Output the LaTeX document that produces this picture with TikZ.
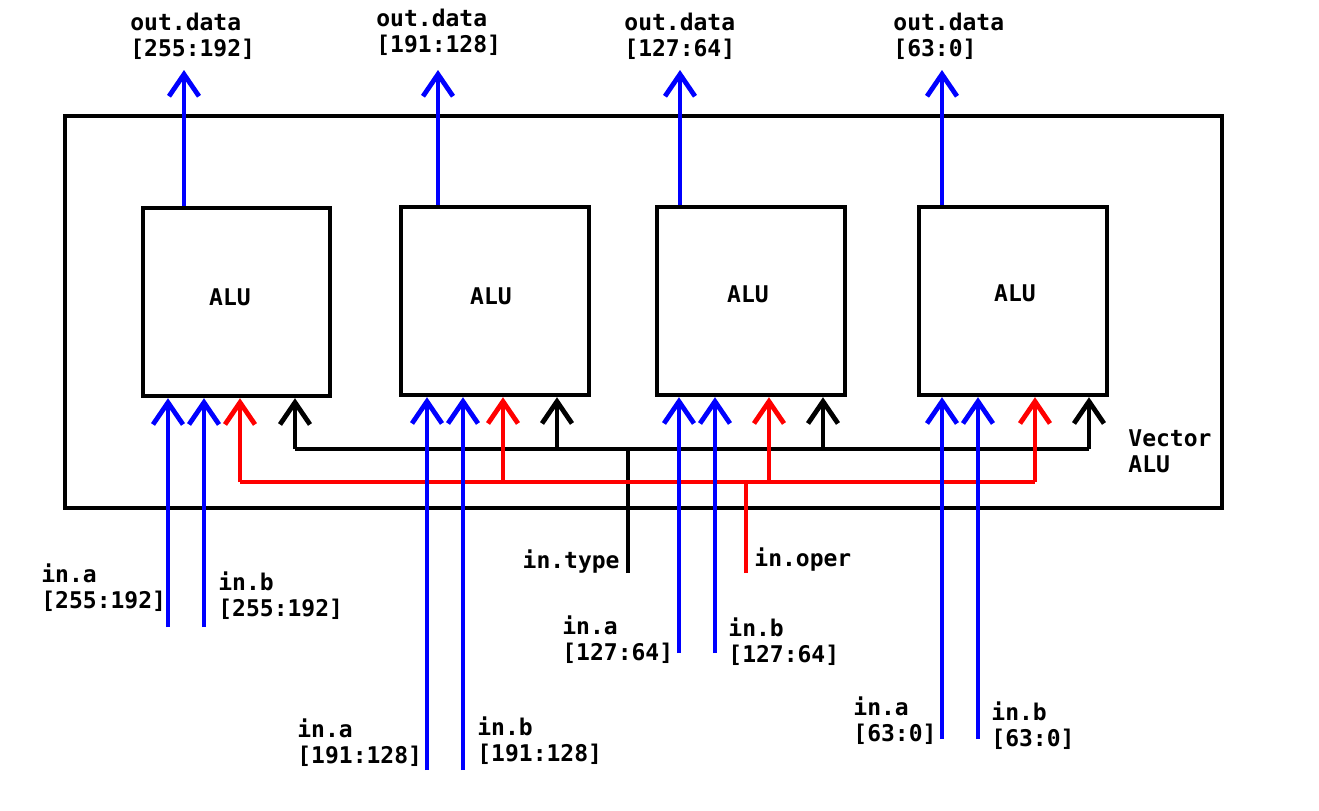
\documentclass[tikz,border=0pt]{standalone}
\usepackage{fontspec}
\setmainfont{DejaVu Sans Mono}
\usetikzlibrary{arrows.meta}
\tikzset{
  px/.style={x=0.5pt,y=-0.5pt},
  box/.style={draw=black,line width=2.2pt,rectangle,inner sep=0pt},
  lab/.style={anchor=west,align=left,inner sep=0pt,font=\bfseries\fontsize{11.5}{13}\selectfont},
  alut/.style={inner sep=0pt,font=\bfseries\fontsize{11.5}{13}\selectfont},
  wire/.style={line width=2.4pt},
  tip/.style={-{Straight Barb[length=11pt,width=15pt,line width=2.4pt]}},
  barrow/.style={wire,draw=blue,tip},
  rarrow/.style={wire,draw=red,tip},
  karrow/.style={wire,draw=black,tip},
}
\begin{document}
\begin{tikzpicture}[px]
\useasboundingbox (0,0) rectangle (1319,810);
% outer box
\node[box,line width=2.4pt,minimum width=578.5pt,minimum height=196pt] (valu) at (643.5,312) {};
\node[lab] (vlab) at (1128,451) {Vector\\ALU};
% ALU boxes
\node[box,minimum width=93.5pt,minimum height=94pt] (alu1) at (236.5,302) {};
\node[box,minimum width=94pt,minimum height=94pt] (alu2) at (495,301) {};
\node[box,minimum width=94pt,minimum height=94pt] (alu3) at (751,301) {};
\node[box,minimum width=94pt,minimum height=94pt] (alu4) at (1013,301) {};
\node[alut] (t1) at (230,297) {ALU};
\node[alut] (t2) at (491,296) {ALU};
\node[alut] (t3) at (748,294) {ALU};
\node[alut] (t4) at (1015,293) {ALU};
% outputs
\coordinate (o1) at (184,70);
\coordinate (o2) at (438,70);
\coordinate (o3) at (680,70);
\coordinate (o4) at (942,70);
\draw[barrow] (o1 |- alu1.north) -- (o1);
\draw[barrow] (o2 |- alu2.north) -- (o2);
\draw[barrow] (o3 |- alu3.north) -- (o3);
\draw[barrow] (o4 |- alu4.north) -- (o4);
\node[lab] (ol1) at (130,36) {out.data\\{}[255:192]};
\node[lab] (ol2) at (376,32) {out.data\\{}[191:128]};
\node[lab] (ol3) at (624,36) {out.data\\{}[127:64]};
\node[lab] (ol4) at (893,36) {out.data\\{}[63:0]};
% data inputs
\coordinate (a1) at (168,627); \coordinate (b1) at (204,627);
\coordinate (a2) at (427,770); \coordinate (b2) at (463,770);
\coordinate (a3) at (679,653); \coordinate (b3) at (715,653);
\coordinate (a4) at (942,739); \coordinate (b4) at (978,739);
% type bus
\coordinate (k1) at (295,449); \coordinate (k2) at (557,449);
\coordinate (k3) at (823,449); \coordinate (k4) at (1089,449);
\coordinate (ty) at (628,573);
\draw[wire] (k1) -- (k4);
\draw[wire] (ty) -- (ty |- k1);
\draw[karrow] (k1) -- (k1 |- alu1.south);
\draw[karrow] (k2) -- (k2 |- alu2.south);
\draw[karrow] (k3) -- (k3 |- alu3.south);
\draw[karrow] (k4) -- (k4 |- alu4.south);
% oper bus
\coordinate (r1) at (240,482); \coordinate (r2) at (503,482);
\coordinate (r3) at (769,482); \coordinate (r4) at (1035,482);
\coordinate (op) at (746,573);
\draw[wire,red] (r1) -- (r4);
\draw[wire,red] (op) -- (op |- r1);
\draw[rarrow] (r1) -- (r1 |- alu1.south);
\draw[rarrow] (r2) -- (r2 |- alu2.south);
\draw[rarrow] (r3) -- (r3 |- alu3.south);
\draw[rarrow] (r4) -- (r4 |- alu4.south);
% blue inputs (drawn on top)
\draw[barrow] (a1) -- (a1 |- alu1.south);
\draw[barrow] (b1) -- (b1 |- alu1.south);
\draw[barrow] (a2) -- (a2 |- alu2.south);
\draw[barrow] (b2) -- (b2 |- alu2.south);
\draw[barrow] (a3) -- (a3 |- alu3.south);
\draw[barrow] (b3) -- (b3 |- alu3.south);
\draw[barrow] (a4) -- (a4 |- alu4.south);
\draw[barrow] (b4) -- (b4 |- alu4.south);
% labels
\node[lab,anchor=east] (tyl) at (620,562) {in.type};
\node[lab] (opl) at (754,560) {in.oper};
\node[lab] (la1) at (41,588) {in.a\\{}[255:192]};
\node[lab] (lb1) at (218,596) {in.b\\{}[255:192]};
\node[lab] (la2) at (297,743) {in.a\\{}[191:128]};
\node[lab] (lb2) at (477,741) {in.b\\{}[191:128]};
\node[lab] (la3) at (562,640) {in.a\\{}[127:64]};
\node[lab] (lb3) at (728,642) {in.b\\{}[127:64]};
\node[lab] (la4) at (853,721) {in.a\\{}[63:0]};
\node[lab] (lb4) at (991,726) {in.b\\{}[63:0]};
\end{tikzpicture}
\end{document}
